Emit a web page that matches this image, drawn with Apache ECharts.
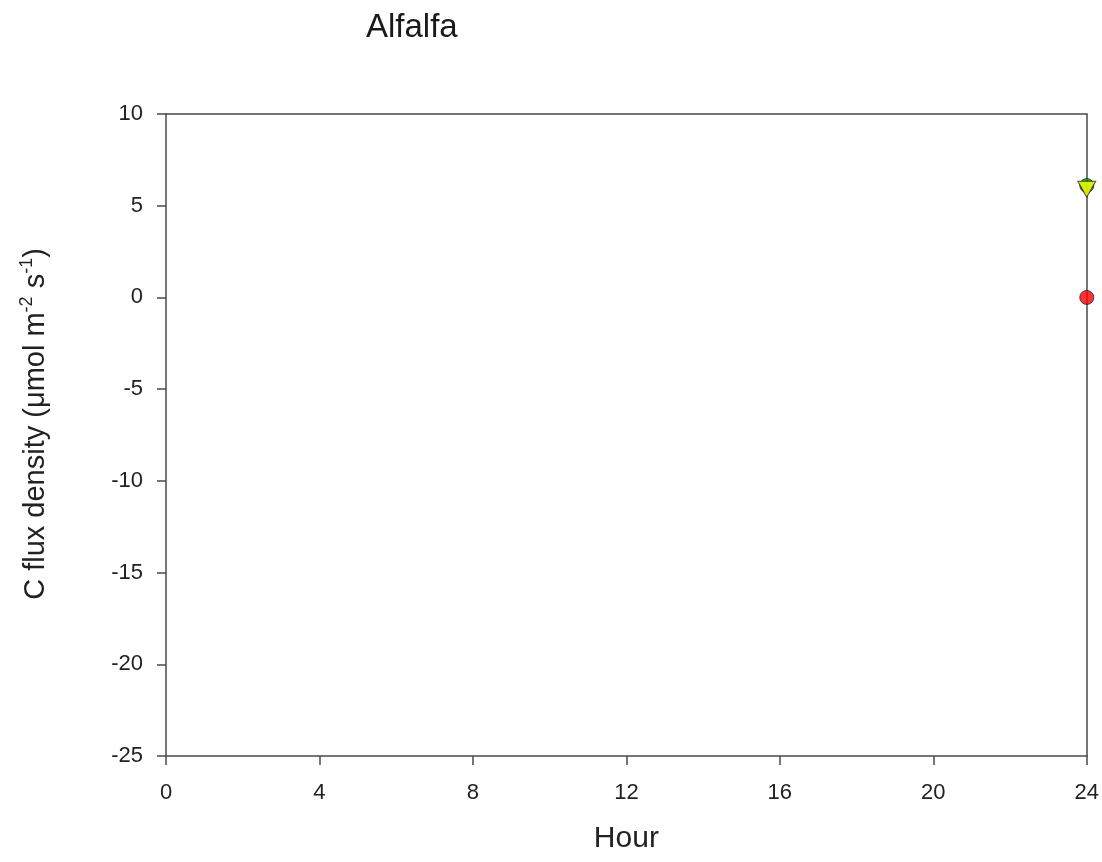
<!DOCTYPE html>
<html>
<head>
<meta charset="utf-8">
<script src="https://cdn.jsdelivr.net/npm/echarts@6/dist/echarts.min.js"></script>
<style>html,body{margin:0;padding:0;background:#fff;}#c{width:1102px;height:862px;}</style>
</head>
<body>
<div id="c"></div>
<script>
const titleText = 'Alfalfa';
const xTicks = [0, 4, 8, 12, 16, 20, 24];
const yTicks = [-25, -20, -15, -10, -5, 0, 5, 10];
const greenCircle = [[24, 6.1]];
const yellowTriangle = [[24, 5.9]];
const redCircle = [[24, 0]];

const chart = echarts.init(document.getElementById('c'));
const font = '"Liberation Sans", Arial, sans-serif';
const lineColor = '#4a4a4a';
chart.setOption({
  animation: false,
  backgroundColor: '#fff',
  title: {
    text: titleText, left: 361, top: 6,
    textStyle: {fontFamily: font, fontSize: 33, fontWeight: 'normal', color: '#1a1a1a'}
  },
  grid: {left: 166, right: 15, top: 114, bottom: 106, show: false},
  xAxis: [{
    type: 'value', min: xTicks[0], max: xTicks[xTicks.length - 1], interval: 4,
    position: 'bottom',
    name: 'Hour', nameLocation: 'middle', nameGap: 68,
    nameTextStyle: {fontFamily: font, fontSize: 30, color: '#222'},
    axisLine: {show: true, onZero: false, lineStyle: {color: lineColor, width: 1.5}},
    axisTick: {show: true, inside: false, length: 9, lineStyle: {color: lineColor, width: 1.5}},
    axisLabel: {margin: 26, fontFamily: font, fontSize: 22, color: '#222'},
    splitLine: {show: false}
  }, {
    type: 'value', min: 0, max: 24, position: 'top',
    axisLine: {show: true, onZero: false, lineStyle: {color: lineColor, width: 1.5}},
    axisTick: {show: false}, axisLabel: {show: false}, splitLine: {show: false}
  }],
  yAxis: [{
    type: 'value', min: yTicks[0], max: yTicks[yTicks.length - 1], interval: 5,
    position: 'left',
    name: '{n|C flux density (μmol m}{s|-2}{n| s}{s|-1}{n|)}',
    nameLocation: 'middle', nameGap: 112, nameRotate: 90,
    nameTextStyle: {
      padding: [0, 0, 0, 22],
      rich: {
        n: {fontFamily: font, fontSize: 29, color: '#222'},
        s: {fontFamily: font, fontSize: 18, color: '#222', padding: [0, 0, 18, 0]}
      }
    },
    axisLine: {show: true, onZero: false, lineStyle: {color: lineColor, width: 1.5}},
    axisTick: {show: true, inside: false, length: 9, lineStyle: {color: lineColor, width: 1.5}},
    axisLabel: {margin: 23, fontFamily: font, fontSize: 22, color: '#222'},
    splitLine: {show: false}
  }, {
    type: 'value', min: -25, max: 10, position: 'right',
    axisLine: {show: true, onZero: false, lineStyle: {color: lineColor, width: 1.5}},
    axisTick: {show: false}, axisLabel: {show: false}, splitLine: {show: false}
  }],
  series: [{
    type: 'scatter', data: greenCircle, symbol: 'circle', symbolSize: 14,
    itemStyle: {color: '#00a000', borderColor: '#222', borderWidth: 1}
  }, {
    type: 'scatter', data: yellowTriangle, symbol: 'triangle', symbolRotate: 180, symbolSize: [18, 16],
    itemStyle: {color: '#ffff00', borderColor: '#222', borderWidth: 1}
  }, {
    type: 'scatter', data: redCircle, symbol: 'circle', symbolSize: 14,
    itemStyle: {color: '#ff0000', borderColor: '#222', borderWidth: 1}
  }]
});
</script>
</body>
</html>
